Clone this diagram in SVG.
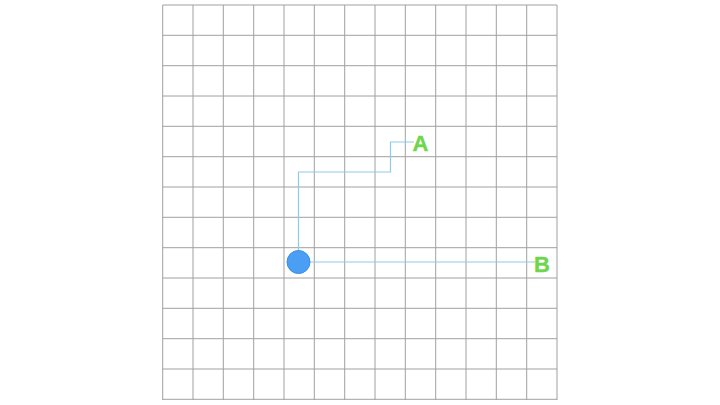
<svg xmlns="http://www.w3.org/2000/svg" width="720" height="405" viewBox="0 0 720 405">
<defs>
<style>
.grid line{stroke:#a0a0a0;stroke-width:1}
.conn{fill:none;stroke:#8ecbe6;stroke-width:1.2}
.lbl{font-family:"Liberation Sans",Arial,sans-serif;font-weight:bold;font-size:22px;fill:#6fd64b;stroke:#6fd64b;stroke-width:0.4}
</style>
</defs>
<rect width="720" height="405" fill="#ffffff"/>
<g class="grid" id="grid">
<line x1="162.7" y1="5" x2="162.7" y2="400"/>
<line x1="193" y1="5" x2="193" y2="400"/>
<line x1="223.3" y1="5" x2="223.3" y2="400"/>
<line x1="253.7" y1="5" x2="253.7" y2="400"/>
<line x1="284" y1="5" x2="284" y2="400"/>
<line x1="314.3" y1="5" x2="314.3" y2="400"/>
<line x1="344.7" y1="5" x2="344.7" y2="400"/>
<line x1="375" y1="5" x2="375" y2="400"/>
<line x1="405.3" y1="5" x2="405.3" y2="400"/>
<line x1="435.7" y1="5" x2="435.7" y2="400"/>
<line x1="466" y1="5" x2="466" y2="400"/>
<line x1="496.3" y1="5" x2="496.3" y2="400"/>
<line x1="526.7" y1="5" x2="526.7" y2="400"/>
<line x1="557" y1="5" x2="557" y2="400"/>
<line x1="162.7" y1="5" x2="557" y2="5"/>
<line x1="162.7" y1="35.3" x2="557" y2="35.3"/>
<line x1="162.7" y1="65.7" x2="557" y2="65.7"/>
<line x1="162.7" y1="96" x2="557" y2="96"/>
<line x1="162.7" y1="126.3" x2="557" y2="126.3"/>
<line x1="162.7" y1="156.7" x2="557" y2="156.7"/>
<line x1="162.7" y1="187" x2="557" y2="187"/>
<line x1="162.7" y1="217.3" x2="557" y2="217.3"/>
<line x1="162.7" y1="247.7" x2="557" y2="247.7"/>
<line x1="162.7" y1="278" x2="557" y2="278"/>
<line x1="162.7" y1="308.3" x2="557" y2="308.3"/>
<line x1="162.7" y1="338.7" x2="557" y2="338.7"/>
<line x1="162.7" y1="369" x2="557" y2="369"/>
<line x1="162.7" y1="399.3" x2="557" y2="399.3"/>
</g>
<g id="connectors">
<polyline class="conn" points="298.5,262 298.5,172 390.5,172 390.5,142 414,142"/>
<line class="conn" x1="298.5" y1="262" x2="535" y2="262"/>
</g>
<g id="origin">
<circle cx="298.5" cy="262" r="11.5" fill="#4a9ff5" stroke="#3b8ee6" stroke-width="1"/>
</g>
<g id="A">
<text class="lbl" x="412.5" y="151">A</text>
</g>
<g id="B">
<text class="lbl" x="534" y="272">B</text>
</g>
</svg>
